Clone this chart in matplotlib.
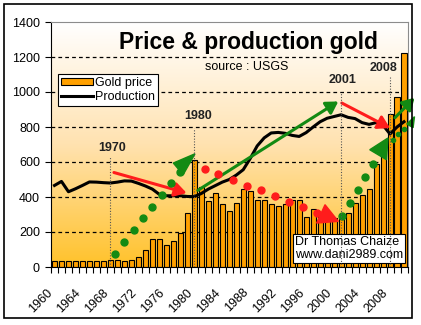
import numpy as np
import matplotlib
matplotlib.use('Agg')
import matplotlib.pyplot as plt
import matplotlib.transforms as mtransforms
from matplotlib.colors import LinearSegmentedColormap
from matplotlib.patches import Rectangle, Polygon

plt.rcParams['font.family'] = ['Liberation Sans', 'DejaVu Sans']

# ---- data ----
years = list(range(1960, 2011))
gold_price = [35, 35, 35, 35, 35, 35, 35, 35, 41, 41,
              36, 41, 58, 99, 160, 160, 126, 149, 196, 309,
              612, 460, 379, 423, 360, 322, 366, 446, 436, 385,
              385, 362, 350, 361, 383, 385, 288, 331, 305, 290,
              282, 275, 309, 366, 413, 446, 589, 700, 874, 971,
              1223]
production = [466, 489, 430, 447, 466, 486, 485, 482, 480, 485,
              492, 491, 478, 463, 445, 415, 407, 407, 407, 403,
              402, 420, 445, 465, 485, 500, 525, 556, 620, 692,
              738, 766, 769, 764, 752, 746, 768, 800, 830, 850,
              860, 870, 855, 848, 825, 815, 825, 810, 760, 800,
              830]

# dotted trend markers (x in years)
green_70s_x = [1968.7, 1970.0, 1971.4, 1972.7, 1974.0, 1975.4, 1976.7, 1978.0]
green_70s_y = [74, 145, 209, 278, 345, 413, 480, 543]
red_x = [1981.5, 1983.4, 1985.5, 1987.5, 1989.5, 1991.5, 1993.6, 1995.5, 1997.5]
red_y = [560, 533, 499, 465, 438, 403, 371, 341, 309]
green_00s_x = [2001.2, 2002.3, 2003.4, 2004.4, 2005.5]
green_00s_y = [289, 366, 438, 514, 589]
small_green_x = [2008.44, 2009.16, 2009.97]
small_green_y = [727, 760, 790]

# arrow heads at the end of the dotted trends
head_green_1980 = [(1980.1, 647), (1977.0, 594), (1978.4, 527)]
head_green_2008 = [(2005.1, 670), (2007.7, 737), (2007.5, 613)]
head_red_2000 = [(1997.5, 251), (1998.7, 356), (2000.6, 261)]
head_green_2010 = [(2010.4, 817), (2011.5, 859), (2011.3, 796)]

# straight arrows (start, end)
red_arrows = [((1968.5, 540), (1978.9, 423)), ((2001.1, 937), (2008.0, 794))]
green_arrows = [((1980.5, 438), (2000.6, 946)), ((2008.7, 853), (2011.5, 967))]

# marker years
marks = [1968, 1980, 2001, 2008]
mark_labels = ['1970', '1980', '2001', '2008']
mark_top = [630, 795, 1000, 1090]
mark_text_x = [1968.3, 1980.6, 2001.2, 2007.0]
mark_text_y = [680, 861, 1070, 1137]

yticks = [0, 200, 400, 600, 800, 1000, 1200, 1400]
xtick_years = list(range(1960, 2010, 4))

GREEN = '#138a13'
RED = '#ff1c1c'
ORANGE = '#ffa000'

fig = plt.figure(figsize=(4.21, 3.25), dpi=100)
ax = fig.add_axes([51 / 421, 58 / 325, 356.5 / 421, 245 / 325])
ax.set_xlim(1959.5, 2010.5)
ax.set_ylim(0, 1400)

# background gradient of the plot area
cmap = LinearSegmentedColormap.from_list('bg', ['#ffc22a', '#ffe2b0', '#ffffff'])
grad = np.linspace(0, 1, 256).reshape(-1, 1)
ax.imshow(grad, extent=(1959.5, 2010.5, 0, 1400), origin='lower', aspect='auto',
          cmap=cmap, zorder=0)

for v in yticks[1:-1]:
    ax.axhline(v, color='black', lw=0.9, ls=(0, (3, 2.5)), zorder=1)

bars = ax.bar(years, gold_price, width=0.72, color=ORANGE, edgecolor='black',
              linewidth=0.8, zorder=2, label='Gold price')
line, = ax.plot(years, production, color='black', lw=2.2, zorder=4,
                label='Production')

for yr, top in zip(marks, mark_top):
    ax.plot([yr, yr], [0, top], color='#555555', lw=0.8, ls=(0, (1, 1.5)), zorder=7)
for lab, tx, ty in zip(mark_labels, mark_text_x, mark_text_y):
    ax.text(tx, ty, lab, ha='center', va='center', fontsize=9, fontweight='bold',
            color='#222222', zorder=8)

for (x0, y0), (x1, y1) in red_arrows:
    ax.annotate('', xy=(x1, y1), xytext=(x0, y0), annotation_clip=False,
                arrowprops=dict(arrowstyle='-|>,head_length=0.5,head_width=0.3',
                                color=RED, lw=2.2, mutation_scale=14,
                                shrinkA=0, shrinkB=0), zorder=6)
for (x0, y0), (x1, y1) in green_arrows:
    ax.annotate('', xy=(x1, y1), xytext=(x0, y0), annotation_clip=False,
                arrowprops=dict(arrowstyle='-|>,head_length=0.5,head_width=0.3',
                                color=GREEN, lw=2.2, mutation_scale=14,
                                shrinkA=0, shrinkB=0), zorder=6)

ax.plot(green_70s_x, green_70s_y, 'o', color=GREEN, ms=5, zorder=6)
ax.plot(green_00s_x, green_00s_y, 'o', color=GREEN, ms=5, zorder=6)
ax.plot(small_green_x, small_green_y, 'o', color=GREEN, ms=3, zorder=6)
ax.plot(red_x, red_y, 'o', color=RED, ms=5, zorder=6)
for pts, c in [(head_green_1980, GREEN), (head_green_2008, GREEN),
               (head_red_2000, RED), (head_green_2010, GREEN)]:
    ax.add_patch(Polygon(pts, closed=True, color=c, zorder=6, clip_on=False))

ax.text(1994.4, 36, 'Dr Thomas Chaize\nwww.dani2989.com', fontsize=9,
        ha='left', va='bottom', linespacing=1.05, zorder=5,
        bbox=dict(boxstyle='square,pad=0.15', fc='white', ec='black', lw=0.8))

ax.text(1987.8, 1282, 'Price & production gold', ha='center', va='center',
        fontsize=16.5, fontweight='bold', zorder=8)
ax.text(1981.5, 1145, 'source : USGS', ha='left', va='center', fontsize=9, zorder=8)

leg = ax.legend([bars, line], ['Gold price', 'Production'], loc='upper left',
                bbox_to_anchor=(0.02, 0.788), borderaxespad=0,
                fontsize=9, frameon=True, fancybox=False, framealpha=1,
                edgecolor='black', borderpad=0.25, labelspacing=0.15,
                handlelength=2.5, handletextpad=0.2, handleheight=0.5)
leg.get_frame().set_linewidth(0.8)
leg.set_zorder(9)

# axes styling
ax.set_yticks(yticks)
ax.tick_params(axis='y', direction='out', length=4, width=0.8, pad=4, labelsize=9)
ax.set_xticks(xtick_years)
ax.set_xticks(np.arange(1959.5, 2011, 1), minor=True)
ax.tick_params(axis='x', which='major', length=0, pad=14, labelsize=9)
ax.tick_params(axis='x', which='minor', direction='out', length=4, width=0.8)
labels = ax.set_xticklabels([str(y) for y in xtick_years], rotation=45,
                            ha='right', va='top', rotation_mode='anchor')
offset = mtransforms.ScaledTranslation(-8 / 100, 0, fig.dpi_scale_trans)
for lab in labels:
    lab.set_transform(lab.get_transform() + offset)
ax.spines['left'].set_color('black')
ax.spines['bottom'].set_color('black')
ax.spines['top'].set_color('#8c8c8c')
ax.spines['right'].set_color('#8c8c8c')

fig.patches.append(Rectangle((4 / 421, 7 / 325), 408 / 421, 314 / 325,
                             transform=fig.transFigure, fill=False,
                             ec='black', lw=1.2))

fig.savefig('out.png', dpi=100)
